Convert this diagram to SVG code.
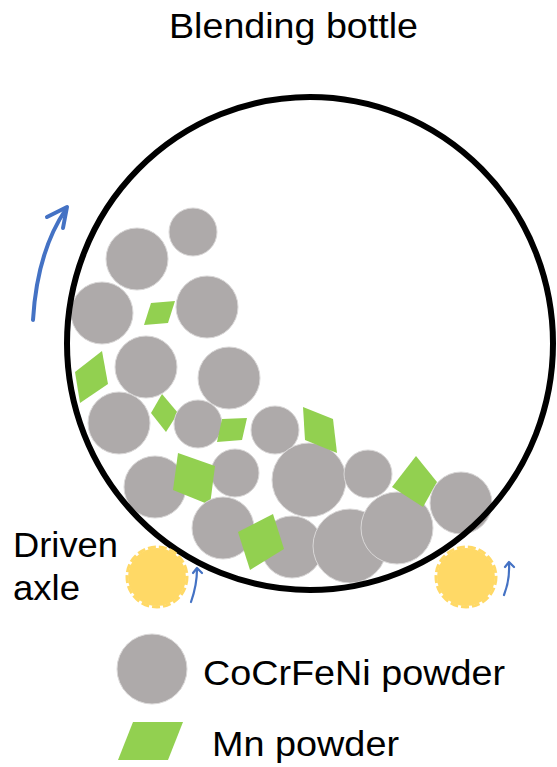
<svg xmlns="http://www.w3.org/2000/svg" width="557" height="767" viewBox="0 0 557 767">
  <style>
    .label { font-family: "Liberation Sans", Arial, sans-serif; fill: #000; font-size: 35px; }
    .cocrfeni { fill: #AEAAAA; stroke: #DAD8D8; stroke-width: 1; }
    .mn { fill: #92D050; }
    .gear { fill: #FFD966; }
    .gear-teeth { fill: none; stroke: #FFD966; stroke-width: 3; stroke-dasharray: 8 3; }
    .flow { fill: none; stroke: #4472C4; stroke-linecap: round; stroke-linejoin: round; }
  </style>
  <rect width="557" height="767" fill="#fff"/>

  <text class="label" x="169" y="38" textLength="249" lengthAdjust="spacingAndGlyphs">Blending bottle</text>

  <!-- powder charge inside the bottle -->
  <g id="powder">
    <circle class="cocrfeni" cx="193" cy="232" r="24"/>
    <circle class="cocrfeni" cx="137" cy="259" r="31"/>
    <circle class="cocrfeni" cx="102" cy="313" r="31"/>
    <circle class="cocrfeni" cx="207" cy="307" r="31"/>
    <polygon class="mn" points="151,303 175,301 168,323 144,325"/>
    <circle class="cocrfeni" cx="146" cy="367" r="31"/>
    <polygon class="mn" points="75,372 102,351 108,384 80,403"/>
    <circle class="cocrfeni" cx="229" cy="378" r="31"/>
    <circle class="cocrfeni" cx="119" cy="423" r="31"/>
    <polygon class="mn" points="162,394 178,413 166,432 151,413"/>
    <circle class="cocrfeni" cx="198" cy="424" r="24"/>
    <polygon class="mn" points="222,419 247,418 242,440 217,442"/>
    <circle class="cocrfeni" cx="275" cy="430" r="24"/>
    <circle class="cocrfeni" cx="155" cy="487" r="31"/>
    <circle class="cocrfeni" cx="235" cy="473" r="24"/>
    <polygon class="mn" points="178,453 215,466 210,505 173,490"/>
    <circle class="cocrfeni" cx="309" cy="480" r="37"/>
    <polygon class="mn" points="303,407 333,419 337,453 305,440"/>
    <circle class="cocrfeni" cx="368" cy="474" r="24"/>
    <circle class="cocrfeni" cx="223" cy="528" r="31"/>
    <circle class="cocrfeni" cx="292" cy="547" r="31"/>
    <circle class="cocrfeni" cx="350" cy="546" r="37"/>
    <circle class="cocrfeni" cx="397" cy="528" r="36"/>
    <polygon class="mn" points="416,456 437,482 423,507 392,487"/>
    <circle class="cocrfeni" cx="461" cy="503" r="31"/>
    <polygon class="mn" points="238,532 273,514 284,549 250,570"/>
  </g>

  <!-- bottle wall -->
  <g id="bottle">
    <ellipse cx="310" cy="343.5" rx="243" ry="246.5" fill="none" stroke="#000" stroke-width="6"/>
  </g>

  <!-- drive rollers -->
  <g id="axle-left">
    <circle class="gear" cx="157" cy="577" r="29"/>
    <circle class="gear-teeth" cx="157" cy="577" r="30"/>
  </g>
  <g id="axle-right">
    <circle class="gear" cx="466" cy="577" r="29"/>
    <circle class="gear-teeth" cx="466" cy="577" r="30"/>
  </g>

  <!-- rotation arrows -->
  <g id="connectors">
    <path class="flow" stroke-width="4" d="M33,320 Q37,252 66,209"/>
    <polyline class="flow" stroke-width="4" points="47,217 67,207 63,228"/>
    <path class="flow" stroke-width="2.2" d="M191,602 Q197,585 197,569"/>
    <polyline class="flow" stroke-width="2.2" points="193,573 197,568 202,573"/>
    <path class="flow" stroke-width="2.2" d="M504,595 Q510,580 509,563"/>
    <polyline class="flow" stroke-width="2.2" points="505,567 509,562 514,567"/>
  </g>

  <g id="axle-label">
    <text class="label" x="13" y="557" textLength="105" lengthAdjust="spacingAndGlyphs">Driven</text>
    <text class="label" x="13" y="600" textLength="67" lengthAdjust="spacingAndGlyphs">axle</text>
  </g>

  <!-- legend -->
  <g id="legend-cocrfeni">
    <circle class="cocrfeni" cx="152" cy="669" r="35"/>
    <text class="label" x="203" y="685" textLength="302" lengthAdjust="spacingAndGlyphs">CoCrFeNi powder</text>
  </g>
  <g id="legend-mn">
    <polygon class="mn" points="133,722 183,722 168,760 118,760"/>
    <text class="label" x="212" y="756" textLength="187" lengthAdjust="spacingAndGlyphs">Mn powder</text>
  </g>
</svg>
